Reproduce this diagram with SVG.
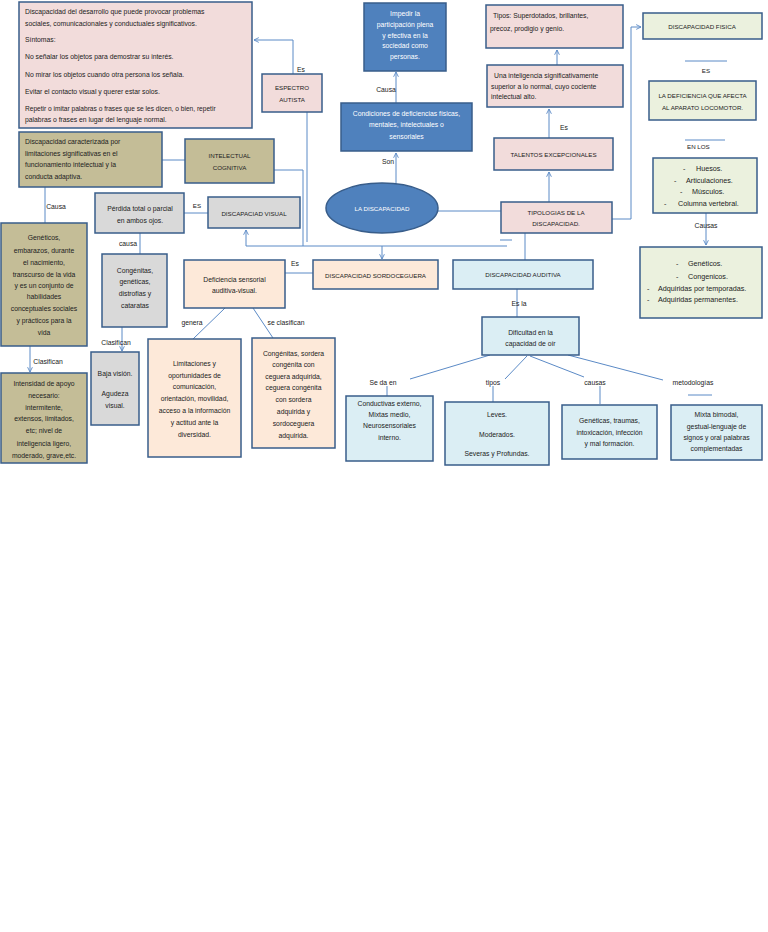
<svg xmlns="http://www.w3.org/2000/svg" width="768" height="932" viewBox="0 0 768 932">
<defs>
<style>
.box{stroke:#385d8a;stroke-width:1.5}
.pink{fill:#f2dcdb}.olive{fill:#c4bd97}.gray{fill:#d9d9d9}.peach{fill:#fde9d9}.lblue{fill:#dbeef4}.green{fill:#ebf1de}.blue{fill:#4f81bd}
text{font-family:"Liberation Sans",Arial,sans-serif;font-size:6.8px;fill:#222}
.c{text-anchor:middle}
.w{fill:#fff}
.cap{font-size:6.2px}
.big{font-size:7.2px}
.conn path{fill:none;stroke:#5b8ac6;stroke-width:1}
</style>
<marker id="arr" viewBox="0 0 10 10" refX="9" refY="5" markerWidth="6" markerHeight="6" orient="auto-start-reverse"><path d="M1,1 L9,5 L1,9" fill="none" stroke="#5b8ac6" stroke-width="1.5"/></marker>
</defs>
<rect width="768" height="932" fill="#fff"/>

<g id="connectors" class="conn">
<path d="M293,74 V40 H254" marker-end="url(#arr)"/>
<path d="M307,112 V242"/>
<path d="M274,170 H303 V246"/>
<path d="M162,160 H185"/>
<path d="M507,246 H246 V230" marker-end="url(#arr)"/>
<path d="M382,246 V259" marker-end="url(#arr)"/>
<path d="M500,240 H512"/>
<path d="M45,187 V223"/>
<path d="M30,346 V372" marker-end="url(#arr)"/>
<path d="M184,213 H208"/>
<path d="M140,233 V254"/>
<path d="M122,327 V351" marker-end="url(#arr)"/>
<path d="M285,273 H313"/>
<path d="M225,308 L193,339"/>
<path d="M253,308 L273,338"/>
<path d="M396,184 V153" marker-end="url(#arr)"/>
<path d="M396,103 V72" marker-end="url(#arr)"/>
<path d="M438,211 H501"/>
<path d="M549,202 V172" marker-end="url(#arr)"/>
<path d="M549,138 V109" marker-end="url(#arr)"/>
<path d="M557,65 V50" marker-end="url(#arr)"/>
<path d="M612,219 H631 V27 H641" marker-end="url(#arr)"/>
<path d="M525,233 V260"/>
<path d="M517,289 V317"/>
<path d="M490,355 L410,379"/>
<path d="M527,356 L505,379"/>
<path d="M530,356 L584,377"/>
<path d="M568,355 L663,380"/>
<path d="M387,386 V396"/>
<path d="M493,386 V402"/>
<path d="M600,386 V404"/>
<path d="M688,395 H712"/>
<path d="M685,61 H727"/>
<path d="M685,140 H725"/>
<path d="M706,213 V245" marker-end="url(#arr)"/>
</g>

<g id="labels">
<text x="297" y="72">Es</text>
<text class="c" x="386" y="91.5">Causa</text>
<text class="c" x="388" y="164">Son</text>
<text class="c" x="564" y="130">Es</text>
<text class="c" x="706" y="73" style="font-size:6.2px">ES</text>
<text x="687" y="149" style="font-size:6.2px">EN LOS</text>
<text class="c" x="706" y="227.5">Causas</text>
<text class="c" x="56" y="208.5">Causa</text>
<text class="c" x="197" y="208" style="font-size:6.2px">ES</text>
<text class="c" x="128" y="245.5">causa</text>
<text class="c" x="48" y="364">Clasifican</text>
<text class="c" x="116" y="344.5">Clasifican</text>
<text class="c" x="295" y="266">Es</text>
<text class="c" x="192" y="324.5">genera</text>
<text class="c" x="286" y="324.5">se clasifican</text>
<text class="c" x="519" y="305.5">Es la</text>
<text class="c" x="383" y="384.5">Se da en</text>
<text class="c" x="493" y="384.5">tipos</text>
<text class="c" x="595" y="384.5">causas</text>
<text class="c" x="693" y="384.5">metodologías</text>
</g>

<g id="autismo-desc">
<rect class="box pink" x="19" y="2" width="233" height="126"/>
<text x="25" y="13.5">Discapacidad del desarrollo que puede provocar problemas</text>
<text x="25" y="25.5">sociales, comunicacionales y conductuales significativos.</text>
<text x="25" y="41.5">Síntomas:</text>
<text x="25" y="58.5">No señalar los objetos para demostrar su interés.</text>
<text x="25" y="76.5">No mirar los objetos cuando otra persona los señala.</text>
<text x="25" y="93.5">Evitar el contacto visual y querer estar solos.</text>
<text x="25" y="110.5" style="font-size:6.6px">Repetir o imitar palabras o frases que se les dicen, o bien, repetir</text>
<text x="25" y="121.5">palabras o frases en lugar del lenguaje normal.</text>
</g>

<g id="espectro-autista">
<rect class="box pink" x="262" y="74" width="60" height="38"/>
<text class="c cap" x="292" y="89.5">ESPECTRO</text>
<text class="c cap" x="292" y="101.5">AUTISTA</text>
</g>

<g id="intelectual-desc">
<rect class="box olive" x="19" y="132" width="143" height="55"/>
<text x="25" y="144">Discapacidad caracterizada por</text>
<text x="25" y="155.5">limitaciones significativas en el</text>
<text x="25" y="166.5">funcionamiento intelectual y la</text>
<text x="25" y="179">conducta adaptiva.</text>
</g>

<g id="intelectual">
<rect class="box olive" x="185" y="139" width="89" height="44"/>
<text class="c cap" x="229.5" y="157.5">INTELECTUAL</text>
<text class="c cap" x="229.5" y="169.5">COGNITIVA</text>
</g>

<g id="intelectual-causa">
<rect class="box olive" x="1" y="223" width="86" height="123"/>
<text class="c" x="44" y="240">Genéticos,</text>
<text class="c" x="44" y="253">embarazos, durante</text>
<text class="c" x="44" y="265">el nacimiento,</text>
<text class="c" x="44" y="276.5">transcurso de la vida</text>
<text class="c" x="44" y="288">y es un conjunto de</text>
<text class="c" x="44" y="299">habilidades</text>
<text class="c" x="44" y="311">conceptuales sociales</text>
<text class="c" x="44" y="322.5">y prácticos para la</text>
<text class="c" x="44" y="335">vida</text>
</g>

<g id="intensidad">
<rect class="box olive" x="1" y="373" width="86" height="90"/>
<text class="c" x="44" y="385.5">Intensidad de apoyo</text>
<text class="c" x="44" y="397.5">necesario:</text>
<text class="c" x="44" y="409.5">intermitente,</text>
<text class="c" x="44" y="421">extensos, limitados,</text>
<text class="c" x="44" y="433">etc; nivel de</text>
<text class="c" x="44" y="445.5">inteligencia ligero,</text>
<text class="c" x="44" y="457.5">moderado, grave,etc.</text>
</g>

<g id="perdida">
<rect class="box gray" x="95" y="193" width="89" height="40"/>
<text class="c" x="140" y="210.5">Pérdida total o parcial</text>
<text class="c" x="140" y="222.5">en ambos ojos.</text>
</g>

<g id="discapacidad-visual">
<rect class="box gray" x="208" y="197" width="92" height="31"/>
<text class="c cap" x="254" y="215.5">DISCAPACIAD VISUAL</text>
</g>

<g id="visual-causa">
<rect class="box gray" x="102" y="254" width="65" height="73"/>
<text class="c" x="135" y="272.5">Congénitas,</text>
<text class="c" x="135" y="284">genéticas,</text>
<text class="c" x="135" y="296">distrofias y</text>
<text class="c" x="135" y="307.5">cataratas</text>
</g>

<g id="baja-vision">
<rect class="box gray" x="91" y="352" width="48" height="73"/>
<text class="c" x="115" y="376">Baja visión.</text>
<text class="c" x="115" y="396">Agudeza</text>
<text class="c" x="115" y="407.5">visual.</text>
</g>

<g id="deficiencia-sensorial">
<rect class="box peach" x="184" y="260" width="101" height="48"/>
<text class="c" x="234.5" y="282">Deficiencia sensorial</text>
<text class="c" x="234.5" y="292.5">auditiva-visual.</text>
</g>

<g id="sordoceguera">
<rect class="box peach" x="313" y="260" width="125" height="29"/>
<text class="c cap" x="375.5" y="277.5">DISCAPACIDAD SORDOCEGUERA</text>
</g>

<g id="limitaciones">
<rect class="box peach" x="148" y="339" width="93" height="118"/>
<text class="c" x="194.5" y="365.5">Limitaciones y</text>
<text class="c" x="194.5" y="377.5">oportunidades de</text>
<text class="c" x="194.5" y="389">comunicación,</text>
<text class="c" x="194.5" y="400.5">orientación, movilidad,</text>
<text class="c" x="194.5" y="413">acceso a la información</text>
<text class="c" x="194.5" y="425">y actitud ante la</text>
<text class="c" x="194.5" y="437">diversidad.</text>
</g>

<g id="sordoceguera-tipos">
<rect class="box peach" x="252" y="338" width="83" height="110"/>
<text class="c" x="293.5" y="355.5">Congénitas, sordera</text>
<text class="c" x="293.5" y="366.5">congénita con</text>
<text class="c" x="293.5" y="378.5">ceguera adquirida,</text>
<text class="c" x="293.5" y="389.5">ceguera congénita</text>
<text class="c" x="293.5" y="401.5">con sordera</text>
<text class="c" x="293.5" y="413.5">adquirida y</text>
<text class="c" x="293.5" y="425.5">sordoceguera</text>
<text class="c" x="293.5" y="437.5">adquirida.</text>
</g>

<g id="impedir">
<rect class="box blue" x="364" y="3" width="82" height="68"/>
<text class="c w" x="405" y="16">Impedir la</text>
<text class="c w" x="405" y="26.5">participación plena</text>
<text class="c w" x="405" y="37.5">y efectiva en la</text>
<text class="c w" x="405" y="48">sociedad como</text>
<text class="c w" x="405" y="58.5">personas.</text>
</g>

<g id="condiciones">
<rect class="box blue" x="341" y="103" width="131" height="48"/>
<text class="c w" x="406.5" y="115.5">Condiciones de deficiencias físicas,</text>
<text class="c w" x="406.5" y="127">mentales, intelectuales o</text>
<text class="c w" x="406.5" y="139">sensoriales</text>
</g>

<g id="la-discapacidad">
<ellipse class="box blue" cx="382" cy="208" rx="56" ry="25"/>
<text class="c w cap" x="382" y="210.5">LA DISCAPACIDAD</text>
</g>

<g id="tipologias">
<rect class="box pink" x="501" y="202" width="111" height="31"/>
<text class="c cap" x="556" y="215">TIPOLOGIAS DE LA</text>
<text class="c cap" x="556" y="226">DISCAPACIDAD.</text>
</g>

<g id="talentos">
<rect class="box pink" x="494" y="138" width="119" height="32"/>
<text class="c cap" x="553.5" y="157">TALENTOS EXCEPCIONALES</text>
</g>

<g id="talentos-def">
<rect class="box pink" x="487" y="65" width="136" height="42"/>
<text x="494" y="77.5">Una inteligencia significativamente</text>
<text x="491" y="88.5">superior a lo normal, cuyo cociente</text>
<text x="491" y="99">intelectual alto.</text>
</g>

<g id="talentos-tipos">
<rect class="box pink" x="486" y="5" width="137" height="43"/>
<text x="493" y="17.5">Tipos: Superdotados, brillantes,</text>
<text x="490" y="30.5">precoz, prodigio y genio.</text>
</g>

<g id="fisica">
<rect class="box green" x="643" y="13" width="119" height="26"/>
<text class="c cap" x="702" y="28.5">DISCAPACIDAD FISICA</text>
</g>

<g id="fisica-def">
<rect class="box green" x="649" y="81" width="107" height="39"/>
<text class="c cap" x="702.5" y="97.5">LA DEFICIENCIA QUE AFECTA</text>
<text class="c cap" x="702.5" y="109.5">AL APARATO LOCOMOTOR.</text>
</g>

<g id="fisica-partes">
<rect class="box green" x="653" y="158" width="104" height="55"/>
<text class="big" x="683" y="170.5">-</text><text class="big" x="696" y="170.5">Huesos.</text>
<text class="big" x="674" y="182.5">-</text><text class="big" x="686" y="182.5">Articulaciones.</text>
<text class="big" x="680" y="193.5">-</text><text class="big" x="692" y="193.5">Músculos.</text>
<text class="big" x="664" y="205.5">-</text><text class="big" x="678" y="205.5">Columna vertebral.</text>
</g>

<g id="fisica-causas">
<rect class="box green" x="640" y="247" width="122" height="71"/>
<text class="big" x="676" y="265.5">-</text><text class="big" x="688" y="265.5">Genéticos.</text>
<text class="big" x="676" y="279">-</text><text class="big" x="688" y="279">Congenicos.</text>
<text class="big" x="647" y="291">-</text><text class="big" x="658" y="291">Adquiridas por temporadas.</text>
<text class="big" x="647" y="302">-</text><text class="big" x="658" y="302">Adquiridas permanentes.</text>
</g>

<g id="auditiva">
<rect class="box lblue" x="453" y="260" width="140" height="29"/>
<text class="c cap" x="523" y="277">DISCAPACIDAD AUDITIVA</text>
</g>

<g id="dificultad">
<rect class="box lblue" x="482" y="317" width="97" height="38"/>
<text class="c" x="530.5" y="334.5">Dificultad en la</text>
<text class="c" x="530.5" y="345.5">capacidad de oír</text>
</g>

<g id="se-da-en">
<rect class="box lblue" x="346" y="396" width="87" height="65"/>
<text class="c" x="389.5" y="405.5">Conductivas externo,</text>
<text class="c" x="389.5" y="416.5">Mixtas medio,</text>
<text class="c" x="389.5" y="427.5">Neurosensoriales</text>
<text class="c" x="389.5" y="439.5">interno.</text>
</g>

<g id="tipos">
<rect class="box lblue" x="445" y="402" width="104" height="63"/>
<text class="c" x="497" y="416.5">Leves.</text>
<text class="c" x="497" y="436.5">Moderados.</text>
<text class="c" x="497" y="455.5">Severas y Profundas.</text>
</g>

<g id="causas">
<rect class="box lblue" x="562" y="405" width="95" height="54"/>
<text class="c" x="609.5" y="422.5">Genéticas, traumas,</text>
<text class="c" x="609.5" y="434.5">intoxicación, infección</text>
<text class="c" x="609.5" y="445.5">y mal formación.</text>
</g>

<g id="metodologias">
<rect class="box lblue" x="671" y="405" width="91" height="55"/>
<text class="c" x="716.5" y="416.5">Mixta bimodal,</text>
<text class="c" x="716.5" y="428.5">gestual-lenguaje de</text>
<text class="c" x="716.5" y="439.5">signos y oral palabras</text>
<text class="c" x="716.5" y="450.5">complementadas</text>
</g>
</svg>
